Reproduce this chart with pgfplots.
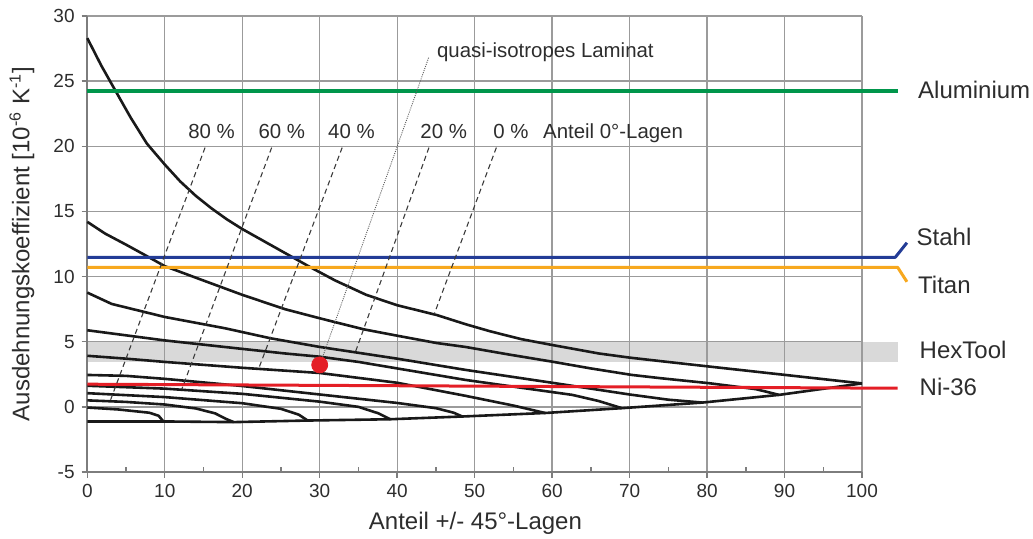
\documentclass[border=0pt]{standalone}
\usepackage{fontspec}
\setmainfont{Liberation Sans}
\usepackage{pgfplots}
\pgfplotsset{compat=1.18}
\definecolor{txt}{RGB}{45,45,45}
\definecolor{gridc}{RGB}{155,155,155}
\definecolor{axc}{RGB}{125,125,125}
\definecolor{alu}{RGB}{0,150,75}
\definecolor{stahl}{RGB}{35,60,150}
\definecolor{titan}{RGB}{247,168,30}
\definecolor{ni}{RGB}{228,30,38}
\definecolor{bandc}{RGB}{217,217,217}
\definecolor{crv}{RGB}{25,25,25}
\begin{document}
\begin{tikzpicture}
\begin{axis}[
  set layers,
  scale only axis, width=387.35pt, height=228pt,
  xmin=0, xmax=100, ymin=-5, ymax=30,
  clip=false,
  axis lines=left, axis line style={-, draw=axc, line width=0.9pt},
  xtick={0,10,...,100}, ytick={-5,0,...,30},
  grid=major, major grid style={draw=gridc, line width=0.65pt},
  tick align=outside, major tick length=2.8pt, tick style={draw=axc, line width=0.7pt},
  extra x ticks={5,15,...,95}, extra x tick labels={},
  extra x tick style={grid=none, tick align=inside, major tick length=2.5pt},
  ticklabel style={font=\fontsize{9.5}{11}\selectfont, text=txt},
  /pgf/number format/assume math mode=true,
  xlabel={Anteil +/- 45°-Lagen},
  ylabel={Ausdehnungskoeffizient [10\textsuperscript{-6} K\textsuperscript{-1}]},
  label style={font=\fontsize{12}{14}\selectfont, text=txt},
  xlabel style={at={(axis description cs:0.501,-0.1118)}, anchor=center},
  ylabel style={at={(axis description cs:-0.0843,0.5)}, anchor=center},
]
% HexTool band
\addplot[draw=none, fill=bandc, on layer=axis background] coordinates {(0,3.47) (104.6,3.47) (104.6,5.0) (0,5.0)} -- cycle;

% carpet curves (share of 0 deg layers: 0 %, 10 %, ..., 90 %, and 0 % of 90 deg layers)
\addplot[crv, line width=1.3pt, line join=round] coordinates {(0,28.3)(1.8,26.2)(3.6,24.3)(5.6,22.2)(7.7,20.2)(10,18.6)(12,17.3)(14,16.2)(16,15.25)(18,14.4)(20,13.65)(23,12.65)(26,11.65)(29,10.65)(32,9.7)(36,8.6)(40,7.8)(45.1,7.05)(48.8,6.35)(52,5.8)(56,5.2)(60,4.75)(66,4.1)(70,3.78)(74.6,3.47)(80.2,3.1)(90.1,2.45)(100,1.8)};
\addplot[crv, line width=1.3pt, line join=round] coordinates {(0,14.2)(2.3,13.3)(5,12.45)(7.45,11.65)(10,10.8)(14.8,9.74)(20,8.6)(25.5,7.5)(30,6.8)(35.7,5.95)(40.2,5.44)(45.1,4.9)(48.8,4.6)(54.4,4.02)(60,3.47)(65,2.95)(70.3,2.45)(74,2.2)(80.2,1.82)(86.3,1.36)(89.3,0.92)};
\addplot[crv, line width=1.3pt, line join=round] coordinates {(0,8.77)(3.15,7.9)(10,6.9)(17.8,6.03)(23.6,5.27)(30,4.6)(35,4.15)(40,3.7)(48.8,2.84)(60,1.85)(70,0.95)(75,0.55)(79.4,0.33)};
\addplot[crv, line width=1.3pt, line join=round] coordinates {(0,5.88)(10,5.1)(20,4.45)(25.5,4.1)(30,3.85)(35,3.45)(40,2.95)(48.8,2.07)(55,1.55)(62.6,0.92)(66,0.45)(69,-0.1)};
\addplot[crv, line width=1.3pt, line join=round] coordinates {(0,3.92)(5,3.7)(10,3.45)(20,3.0)(30,2.6)(40,1.85)(48.8,0.85)(55,0.1)(59.1,-0.47)};
\addplot[crv, line width=1.3pt, line join=round] coordinates {(0,2.45)(5,2.38)(10,2.15)(20,1.6)(30,0.95)(40,0.3)(45,-0.1)(47.3,-0.45)(48.4,-0.74)};
\addplot[crv, line width=1.3pt, line join=round] coordinates {(0,1.62)(10,1.4)(20,1.0)(30,0.4)(35,0.0)(37.6,-0.5)(39.1,-0.95)};
\addplot[crv, line width=1.3pt, line join=round] coordinates {(0,1.05)(10,0.75)(20,0.28)(25,-0.15)(27.3,-0.6)(28.4,-1.03)};
\addplot[crv, line width=1.3pt, line join=round] coordinates {(0,0.5)(5,0.38)(10,0.18)(14,-0.12)(16.5,-0.5)(18,-0.95)(18.9,-1.17)};
\addplot[crv, line width=1.3pt, line join=round] coordinates {(0,-0.05)(4,-0.2)(8,-0.45)(9.2,-0.68)(9.8,-1.1)};
\addplot[crv, line width=1.3pt, line join=round] coordinates {(0,-1.12)(10,-1.12)(18.9,-1.17)(28.4,-1.05)(39.1,-0.95)(48.4,-0.74)(59.1,-0.47)(69,-0.1)(79.4,0.33)(89.3,0.92)(100,1.8)};

% reference materials
\addplot[alu, line width=1.9pt] coordinates {(0,24.22)(104.6,24.22)};
\addplot[stahl, line width=1.5pt, line join=round] coordinates {(0,11.48)(104.3,11.48)(105.8,12.6)};
\addplot[titan, line width=1.5pt, line join=round] coordinates {(0,10.71)(104.6,10.71)(105.8,9.6)};
\addplot[ni, line width=1.5pt] coordinates {(0,1.74)(104.6,1.43)};

% leader lines
\addplot[crv!85, line width=0.55pt, dash pattern=on 2.6pt off 1.8pt] coordinates {(15.2,19.9)(2.95,0.45)};
\addplot[crv!85, line width=0.55pt, dash pattern=on 2.6pt off 1.8pt] coordinates {(23.8,19.9)(12.2,1.35)};
\addplot[crv!85, line width=0.55pt, dash pattern=on 2.6pt off 1.8pt] coordinates {(32.9,19.9)(22.1,2.9)};
\addplot[crv!85, line width=0.55pt, dash pattern=on 2.6pt off 1.8pt] coordinates {(44.1,19.9)(34.6,4.2)};
\addplot[crv!85, line width=0.55pt, dash pattern=on 2.6pt off 1.8pt] coordinates {(52.8,19.9)(44.8,7.15)};
\addplot[crv!70, line width=0.45pt, dash pattern=on 0.5pt off 0.6pt] coordinates {(44.06,26.8)(30.3,3.7)};

% quasi-isotropic laminate
\addplot[only marks, mark=*, mark size=4pt, color=ni] coordinates {(30,3.22)};

% annotations
\begin{scope}[every node/.style={text=txt, inner sep=0pt}]
\node[anchor=base west, font=\fontsize{10.2}{12}\selectfont] at (axis cs:45.1,26.82) {quasi-isotropes Laminat};
\node[anchor=base, font=\fontsize{10.2}{12}\selectfont] at (axis cs:16.05,20.6) {80 \%};
\node[anchor=base, font=\fontsize{10.2}{12}\selectfont] at (axis cs:25.1,20.6) {60 \%};
\node[anchor=base, font=\fontsize{10.2}{12}\selectfont] at (axis cs:34.1,20.6) {40 \%};
\node[anchor=base, font=\fontsize{10.2}{12}\selectfont] at (axis cs:46.0,20.6) {20 \%};
\node[anchor=base, font=\fontsize{10.2}{12}\selectfont] at (axis cs:54.7,20.6) {0 \%};
\node[anchor=base west, font=\fontsize{10.2}{12}\selectfont] at (axis cs:58.8,20.6) {Anteil 0°-Lagen};
\node[anchor=base west, font=\fontsize{12}{14}\selectfont] at (axis cs:107.2,23.67) {Aluminium};
\node[anchor=base west, font=\fontsize{12}{14}\selectfont] at (axis cs:107.0,12.42) {Stahl};
\node[anchor=base west, font=\fontsize{12}{14}\selectfont] at (axis cs:107.2,8.72) {Titan};
\node[anchor=base west, font=\fontsize{12}{14}\selectfont] at (axis cs:107.4,3.73) {HexTool};
\node[anchor=base west, font=\fontsize{12}{14}\selectfont] at (axis cs:107.4,0.84) {Ni-36};
\end{scope}
\end{axis}
\pgfresetboundingbox
\path[use as bounding box] (-43.65pt,-33pt) rectangle (472.85pt,236pt);
\end{tikzpicture}
\end{document}
